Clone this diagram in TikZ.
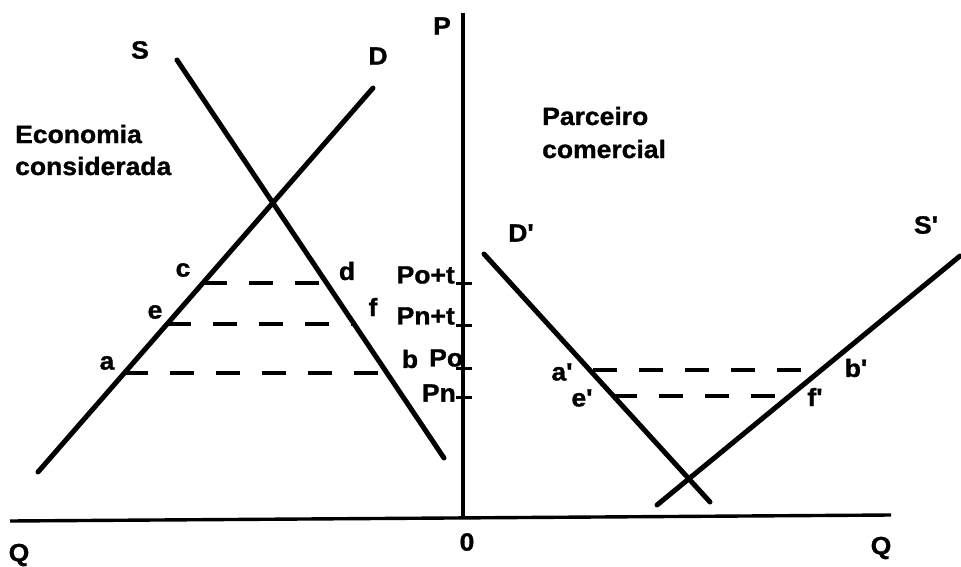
\documentclass[tikz,border=0pt]{standalone}
\usepackage{fontspec}
\newfontfamily\lblfont{Liberation Sans Bold}[FakeStretch=1.06, FakeBold=1.2]
\begin{document}
\begin{tikzpicture}[x=1pt,y=-1pt,
  lbl/.style={font=\lblfont\fontsize{25}{32}\selectfont, inner sep=0pt},
  curve/.style={line width=5pt, line cap=round},
  axis/.style={line width=3.4pt},
  dashline/.style={line width=3.8pt, dash pattern=on 24pt off 22pt},
  tick/.style={line width=3pt}]
\useasboundingbox (0,0) rectangle (961,567);
% axes
\coordinate (Ptop) at (463,13);
\coordinate (O) at (463,518);
\coordinate (Qleft) at (10,521);
\coordinate (Qright) at (891,515);
\draw[axis] (Ptop) -- (O);
\draw[axis] (Qleft) -- (Qright);
% left market
\coordinate (S1) at (177,60);
\coordinate (S2) at (444,458);
\coordinate (D1) at (38,472);
\coordinate (D2) at (373,88);
\draw[curve] (S1) -- (S2);
\draw[curve] (D1) -- (D2);
\coordinate (pc) at (203,283);
\coordinate (pd) at (326,283);
\coordinate (pe) at (167,324);
\coordinate (pf) at (354,324);
\coordinate (pa) at (124,373);
\coordinate (pb) at (387,373);
\draw[dashline] (pc) -- (pd);
\draw[dashline] (pe) -- (pf);
\draw[dashline] (pa) -- (pb);
% ticks
\coordinate (t1a) at (456,283); \coordinate (t1b) at (472,283);
\coordinate (t2a) at (456,325); \coordinate (t2b) at (472,325);
\coordinate (t3a) at (456,368); \coordinate (t3b) at (472,368);
\coordinate (t4a) at (456,397); \coordinate (t4b) at (472,397);
\draw[tick] (t1a) -- (t1b);
\draw[tick] (t2a) -- (t2b);
\draw[tick] (t3a) -- (t3b);
\draw[tick] (t4a) -- (t4b);
% right market
\coordinate (Dp1) at (484,254);
\coordinate (Dp2) at (710,502);
\coordinate (Sp1) at (657,505);
\coordinate (Sp2) at (960,256);
\draw[curve] (Dp1) -- (Dp2);
\draw[curve] (Sp1) -- (Sp2);
\coordinate (pa2) at (593,370);
\coordinate (pb2) at (818,370);
\coordinate (pe2) at (613,396);
\coordinate (pf2) at (790,396);
\draw[dashline] (pa2) -- (pb2);
\draw[dashline] (pe2) -- (pf2);
% labels
\node[lbl] (lS) at (140,50) {S};
\node[lbl] (lD) at (378,56) {D};
\node[lbl] (lP) at (442,26) {P};
\node[lbl, anchor=base west] (econ1) at (15,143) {Economia};
\node[lbl, anchor=base west] (econ2) at (15,175) {considerada};
\node[lbl, anchor=base west] (parc1) at (542,125) {Parceiro};
\node[lbl, anchor=base west] (parc2) at (542,158) {comercial};
\node[lbl] (lc) at (183,270) {c};
\node[lbl] (ld) at (347,271) {d};
\node[lbl] (le) at (155,312) {e};
\node[lbl] (lf) at (373,307) {f};
\node[lbl] (la) at (107,363) {a};
\node[lbl] (lb) at (410,359) {b};
\node[lbl, anchor=east] (lPot) at (455,275) {Po+t};
\node[lbl, anchor=east] (lPnt) at (455,316) {Pn+t};
\node[lbl, anchor=west] (lPo) at (429,358) {Po};
\node[lbl, anchor=east] (lPn) at (456,393) {Pn};
\node[lbl] (lDp) at (521,233) {D'};
\node[lbl] (lSp) at (926,225) {S'};
\node[lbl] (lap) at (562,372) {a'};
\node[lbl] (lbp) at (856,368) {b'};
\node[lbl] (lep) at (582,398) {e'};
\node[lbl] (lfp) at (815,397) {f'};
\node[lbl] (lQl) at (19,555) {Q};
\node[lbl] (lO) at (467,542) {0};
\node[lbl] (lQr) at (881,548) {Q};
\end{tikzpicture}
\end{document}
